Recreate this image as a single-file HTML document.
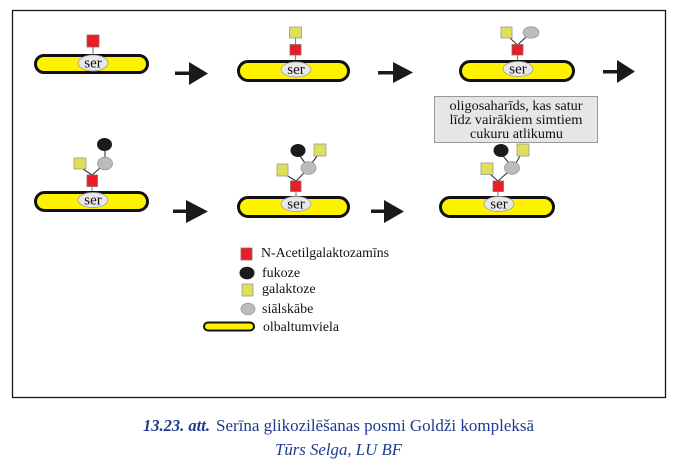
<!DOCTYPE html>
<html><head><meta charset="utf-8">
<style>
html,body{margin:0;padding:0;background:#fff;}
svg{display:block;}
text{font-family:"Liberation Serif",serif;}
</style></head>
<body>
<svg width="694" height="468" viewBox="0 0 694 468" xmlns="http://www.w3.org/2000/svg">
<rect x="0" y="0" width="694" height="468" fill="#fff"/>
<!-- frame -->
<rect x="12.5" y="10.5" width="653" height="387" fill="none" stroke="#1a1a1a" stroke-width="1.3"/>

<defs>
<style>
.pill{fill:#fff200;stroke:#111;stroke-width:3;}
.ser{fill:#e8e8e8;stroke:#9a9a9a;stroke-width:0.8;}
.red{fill:#ec1c24;stroke:#8a6a6a;stroke-width:0.8;}
.gal{fill:#dfe05a;stroke:#999;stroke-width:0.8;}
.sia{fill:#bcbcc0;stroke:#999;stroke-width:0.8;}
.fuc{fill:#1b1b1b;}
.ln{stroke:#333;stroke-width:1.1;fill:none;}
.st{stroke:#888;stroke-width:1.2;}
.arr{fill:#1a1a1a;}
.sertxt{font-size:15px;fill:#111;}
</style>
</defs>

<!-- ROW 1 -->
<!-- 1 -->
<line class="st" x1="93" y1="47" x2="93" y2="56"/>
<rect class="red" x="87" y="35" width="12" height="12"/>
<rect class="pill" x="35.5" y="55.5" width="112" height="17" rx="8.5"/>
<ellipse class="ser" cx="93" cy="63" rx="15" ry="8"/>
<text class="sertxt" x="93" y="67.5" text-anchor="middle">ser</text>

<!-- arrow 1 -->
<rect class="arr" x="175" y="71.5" width="16" height="3.5"/>
<polygon class="arr" points="189,62 208,73.5 189,85"/>

<!-- 2 -->
<line class="st" x1="295.5" y1="38" x2="295.5" y2="45"/>
<line class="st" x1="295.5" y1="55" x2="295.5" y2="62"/>
<rect class="gal" x="289.5" y="27" width="12" height="11"/>
<rect class="red" x="290" y="44.5" width="11" height="10.5"/>
<rect class="pill" x="238.5" y="61.5" width="110" height="19" rx="9.5"/>
<ellipse class="ser" cx="296" cy="69.5" rx="15" ry="7.5"/>
<text class="sertxt" x="296" y="74" text-anchor="middle">ser</text>

<!-- arrow 2 -->
<rect class="arr" x="378" y="71" width="17" height="3.5"/>
<polygon class="arr" points="393,62 413,72.5 393,83"/>

<!-- 3 -->
<line class="ln" x1="517.5" y1="45" x2="510" y2="38"/>
<line class="ln" x1="517.5" y1="45" x2="526" y2="37"/>
<line class="st" x1="517.5" y1="55" x2="517.5" y2="62"/>
<rect class="gal" x="501" y="27" width="11" height="11"/>
<ellipse class="sia" cx="531" cy="32.5" rx="8" ry="5.7"/>
<rect class="red" x="512" y="44.5" width="11" height="10.5"/>
<rect class="pill" x="460.5" y="61.5" width="113" height="19" rx="9.5"/>
<ellipse class="ser" cx="518" cy="69" rx="15" ry="7.5"/>
<text class="sertxt" x="518" y="73.5" text-anchor="middle">ser</text>

<!-- arrow 3 -->
<rect class="arr" x="603" y="70" width="16" height="3.5"/>
<polygon class="arr" points="617,60 635,71.5 617,83"/>

<!-- box -->
<rect x="434.5" y="96.5" width="163" height="46" fill="#e6e6e6" stroke="#999" stroke-width="1"/>
<text x="516" y="110" text-anchor="middle" font-size="14" fill="#111" textLength="133" lengthAdjust="spacingAndGlyphs">oligosaharīds, kas satur</text>
<text x="516" y="124" text-anchor="middle" font-size="14" fill="#111" textLength="133" lengthAdjust="spacingAndGlyphs">līdz vairākiem simtiem</text>
<text x="516.5" y="138" text-anchor="middle" font-size="14" fill="#111" textLength="93" lengthAdjust="spacingAndGlyphs">cukuru atlikumu</text>

<!-- ROW 2 -->
<!-- 1 -->
<line class="ln" x1="92" y1="175" x2="83" y2="169"/>
<line class="ln" x1="92" y1="175" x2="100" y2="168"/>
<line class="ln" x1="105" y1="151" x2="105" y2="157"/>
<line class="st" x1="92" y1="187" x2="92" y2="193"/>
<rect class="gal" x="74" y="158" width="12" height="11"/>
<ellipse class="sia" cx="105" cy="163.5" rx="7.5" ry="6.3"/>
<ellipse class="fuc" cx="104.5" cy="144.5" rx="7.5" ry="6.5"/>
<rect class="red" x="87" y="175" width="10.5" height="11.5"/>
<rect class="pill" x="35.5" y="192.5" width="112" height="18" rx="9"/>
<ellipse class="ser" cx="93" cy="200" rx="15" ry="7.5"/>
<text class="sertxt" x="93" y="204.5" text-anchor="middle">ser</text>

<!-- arrow r2 1 -->
<rect class="arr" x="173" y="209.5" width="15" height="3.5"/>
<polygon class="arr" points="186,200 208,211.5 186,223"/>

<!-- 2 -->
<line class="ln" x1="296" y1="181" x2="286" y2="175"/>
<line class="ln" x1="296" y1="181" x2="304" y2="173"/>
<line class="ln" x1="300" y1="156" x2="305" y2="163"/>
<line class="ln" x1="312" y1="163" x2="317" y2="156"/>
<line class="st" x1="296" y1="191" x2="296" y2="197"/>
<rect class="gal" x="277" y="164" width="11" height="12"/>
<rect class="gal" x="314" y="144" width="12" height="12"/>
<ellipse class="sia" cx="308.5" cy="168" rx="7.5" ry="6.3"/>
<ellipse class="fuc" cx="298" cy="150.5" rx="7.5" ry="6.5"/>
<rect class="red" x="290.5" y="181" width="10.5" height="10.5"/>
<rect class="pill" x="238.5" y="197.5" width="110" height="19" rx="9.5"/>
<ellipse class="ser" cx="296" cy="204" rx="15" ry="7.5"/>
<text class="sertxt" x="296" y="208.5" text-anchor="middle">ser</text>

<!-- arrow r2 2 -->
<rect class="arr" x="371" y="209.5" width="15" height="3.5"/>
<polygon class="arr" points="384,200 404,211.5 384,223"/>

<!-- 3 -->
<line class="ln" x1="498" y1="181" x2="490" y2="174"/>
<line class="ln" x1="498" y1="181" x2="507" y2="173"/>
<line class="ln" x1="503" y1="156" x2="509" y2="163"/>
<line class="ln" x1="516" y1="163" x2="520" y2="156"/>
<line class="st" x1="498" y1="191" x2="498" y2="197"/>
<rect class="gal" x="481" y="163" width="12" height="11.5"/>
<rect class="gal" x="517" y="144" width="12" height="12"/>
<ellipse class="sia" cx="512" cy="168" rx="7.5" ry="6.3"/>
<ellipse class="fuc" cx="501" cy="150.5" rx="7.5" ry="6.5"/>
<rect class="red" x="493" y="181" width="10.5" height="10.5"/>
<rect class="pill" x="440.5" y="197.5" width="113" height="19" rx="9.5"/>
<ellipse class="ser" cx="499" cy="204" rx="15" ry="7.5"/>
<text class="sertxt" x="499" y="208.5" text-anchor="middle">ser</text>

<!-- LEGEND -->
<rect class="red" x="241" y="248" width="11" height="12"/>
<text x="261" y="257" font-size="14" fill="#111" textLength="128" lengthAdjust="spacingAndGlyphs">N-Acetilgalaktozamīns</text>
<ellipse class="fuc" cx="247" cy="273" rx="7.5" ry="6.3"/>
<text x="262" y="277" font-size="14" fill="#111">fukoze</text>
<rect class="gal" x="242" y="284" width="11" height="12"/>
<text x="262" y="293" font-size="14" fill="#111">galaktoze</text>
<ellipse class="sia" cx="248" cy="309" rx="7" ry="5.8"/>
<text x="262" y="313" font-size="14" fill="#111">siālskābe</text>
<rect x="204" y="322.5" width="50" height="8" rx="4" fill="#fff200" stroke="#111" stroke-width="2"/>
<text x="263" y="331" font-size="14" fill="#111" textLength="76" lengthAdjust="spacingAndGlyphs">olbaltumviela</text>

<!-- CAPTION -->
<text x="143" y="431" font-size="17" font-style="italic" font-weight="bold" fill="#1e3a8c" textLength="67" lengthAdjust="spacingAndGlyphs">13.23. att.</text>
<text x="216" y="431" font-size="17" fill="#1e3a8c" textLength="318" lengthAdjust="spacingAndGlyphs">Serīna glikozilēšanas posmi Goldži kompleksā</text>
<text x="275" y="455" font-size="17" font-style="italic" fill="#1e3a8c" textLength="127" lengthAdjust="spacingAndGlyphs">Tūrs Selga, LU BF</text>
</svg>
</body></html>
